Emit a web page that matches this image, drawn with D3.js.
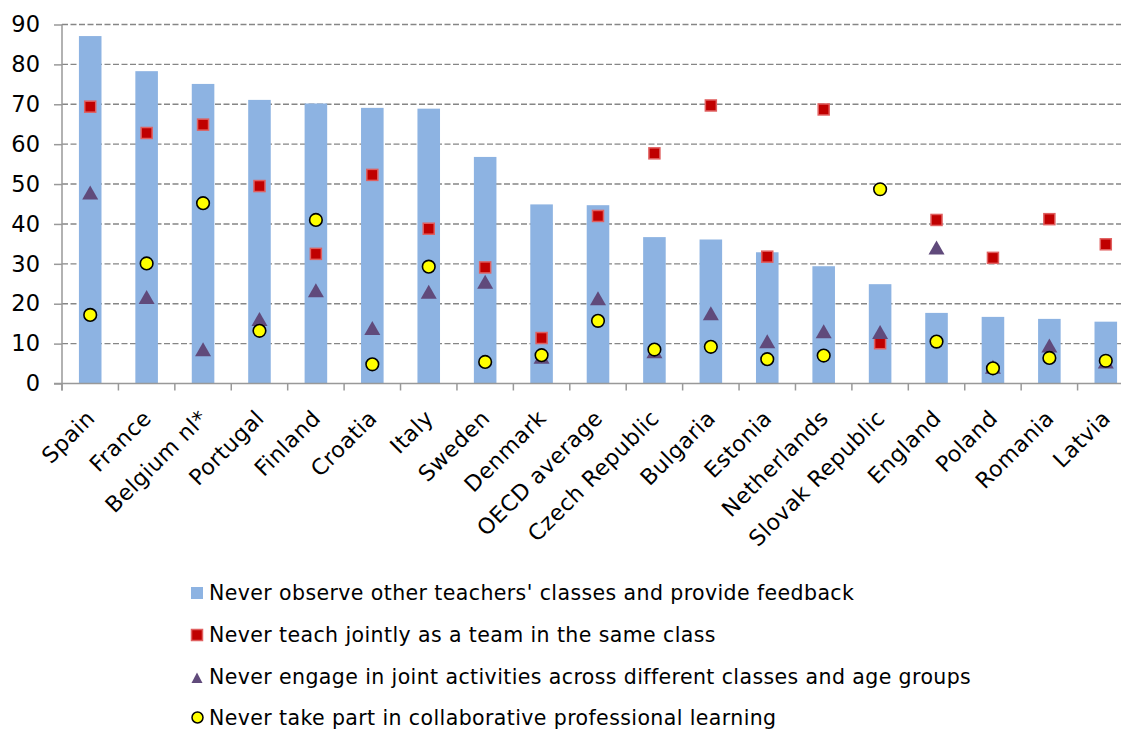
<!DOCTYPE html>
<html><head><meta charset="utf-8">
<script src="https://cdn.jsdelivr.net/npm/d3@7"></script>
<style>
body{margin:0;background:#fff;}
svg text{font-family:"DejaVu Sans",Verdana,sans-serif;fill:#000;}
</style></head>
<body><svg id="c" width="1121" height="729"></svg>
<script>
const categories = ["Spain","France","Belgium nl*","Portugal","Finland","Croatia","Italy","Sweden","Denmark","OECD average","Czech Republic","Bulgaria","Estonia","Netherlands","Slovak Republic","England","Poland","Romania","Latvia"];
const observeValues = [87.1,78.3,75.1,71.1,70.2,69.1,68.9,56.8,44.9,44.7,36.7,36.1,32.9,29.4,24.9,17.7,16.7,16.2,15.5];
const teachJointlyValues = [69.4,62.8,64.9,49.5,32.5,52.3,38.8,29.1,11.4,42.0,57.7,69.7,31.8,68.7,10.1,41.0,31.5,41.2,34.9];
const jointActivitiesValues = [47.9,21.7,8.6,16.2,23.4,13.9,23.0,25.5,6.7,21.4,8.1,17.6,10.6,13.1,12.9,34.1,4.2,9.5,5.5];
const collabLearningValues = [17.2,30.1,45.2,13.2,41.0,4.8,29.3,5.4,7.1,15.7,8.5,9.2,6.1,7.0,48.7,10.5,3.8,6.4,5.7];
const yTicks = [0,10,20,30,40,50,60,70,80,90];
const legendLabels = ["Never observe other teachers' classes and provide feedback","Never teach jointly as a team in the same class","Never engage in joint activities across different classes and age groups","Never take part in collaborative professional learning"];

const colors = {bar:"#8DB3E2", square:"#C00000", squareStroke:"#E06060", tri:"#604A7B", circle:"#FFFF00"};

const svg = d3.select("#c");
const pLeft = 62, pRight = 1134, pTop = 24.5, pBottom = 383.5;
const x = d3.scaleBand().domain(categories).range([pLeft, pRight]).paddingInner(0).paddingOuter(0);
const y = d3.scaleLinear().domain([0, 90]).range([pBottom, pTop]);

// gridlines
svg.append("g").selectAll("line").data(yTicks.filter(d => d > 0)).join("line")
  .attr("x1", pLeft).attr("x2", 1121).attr("y1", d => y(d)).attr("y2", d => y(d))
  .attr("stroke", "#868686").attr("stroke-width", 1.4).attr("stroke-dasharray", "6,2.5");

// bars
const bw = x.bandwidth() * 0.4;
svg.append("g").selectAll("rect").data(categories).join("rect")
  .attr("x", (d) => x(d) + (x.bandwidth() - bw) / 2)
  .attr("y", (d, i) => y(observeValues[i]))
  .attr("width", bw)
  .attr("height", (d, i) => y(0) - y(observeValues[i]))
  .attr("fill", colors.bar);

// y axis
const yAxis = d3.axisLeft(y).tickValues(yTicks).tickSize(8).tickPadding(14);
const gy = svg.append("g").attr("transform", `translate(${pLeft},0)`).call(yAxis);
gy.select(".domain").attr("stroke", "#999").attr("stroke-width", 1.5).attr("d", `M0,${pTop}V${pBottom + 7}`);
gy.selectAll(".tick line").attr("stroke", "#999").attr("stroke-width", 1.5);
gy.selectAll(".tick text").attr("font-size", 22.5).attr("font-family", "DejaVu Sans").attr("fill", "#000");

// x axis
const xTickPos = categories.map(c => x(c)).concat([pRight]);
const gx = svg.append("g");
gx.append("line").attr("x1", pLeft - 8).attr("x2", 1121).attr("y1", pBottom).attr("y2", pBottom)
  .attr("stroke", "#999").attr("stroke-width", 1.5);
gx.selectAll("line.t").data(xTickPos).join("line").attr("class", "t")
  .attr("x1", d => d).attr("x2", d => d).attr("y1", pBottom).attr("y2", pBottom + 7)
  .attr("stroke", "#999").attr("stroke-width", 1.5);
gx.selectAll("text").data(categories).join("text")
  .attr("transform", d => `translate(${x(d) + x.bandwidth() / 2 + 6},${pBottom + 36}) rotate(-45)`)
  .attr("text-anchor", "end").attr("font-size", 22).attr("letter-spacing", 0.5).text(d => d);

// markers
const cx = d => x(d) + x.bandwidth() / 2;
svg.append("g").selectAll("rect").data(categories).join("rect")
  .attr("x", d => cx(d) - 5.5).attr("y", (d, i) => y(teachJointlyValues[i]) - 5.5)
  .attr("width", 11).attr("height", 11)
  .attr("fill", colors.square).attr("stroke", colors.squareStroke).attr("stroke-width", 1.5);

const tri = "M0,-8L8,6L-8,6Z";
svg.append("g").selectAll("path").data(categories).join("path")
  .attr("transform", (d, i) => `translate(${cx(d)},${y(jointActivitiesValues[i]) + 1})`)
  .attr("d", tri).attr("fill", colors.tri);

svg.append("g").selectAll("circle").data(categories).join("circle")
  .attr("cx", cx).attr("cy", (d, i) => y(collabLearningValues[i]))
  .attr("r", 6.3).attr("fill", colors.circle).attr("stroke", "#000").attr("stroke-width", 1.6);

// legend
const lg = svg.append("g");
const rowsY = [593, 635, 677, 717.5];
const lx = 197;
lg.append("rect").attr("x", lx - 6).attr("y", rowsY[0] - 6).attr("width", 12).attr("height", 12).attr("fill", colors.bar);
lg.append("rect").attr("x", lx - 5.5).attr("y", rowsY[1] - 5.5).attr("width", 11).attr("height", 11)
  .attr("fill", colors.square).attr("stroke", colors.squareStroke).attr("stroke-width", 1.5);
lg.append("path").attr("transform", `translate(${lx},${rowsY[2] + 1})`).attr("d", "M0,-5.5L5.5,5L-5.5,5Z").attr("fill", colors.tri);
lg.append("circle").attr("cx", lx + 0.5).attr("cy", rowsY[3]).attr("r", 5.5).attr("fill", colors.circle).attr("stroke", "#000").attr("stroke-width", 1.5);
lg.selectAll("text").data(legendLabels).join("text")
  .attr("x", 209).attr("y", (d, i) => rowsY[i]).attr("dy", "0.35em")
  .attr("font-size", 20.5).attr("letter-spacing", 0.4).text(d => d);
</script></body></html>
